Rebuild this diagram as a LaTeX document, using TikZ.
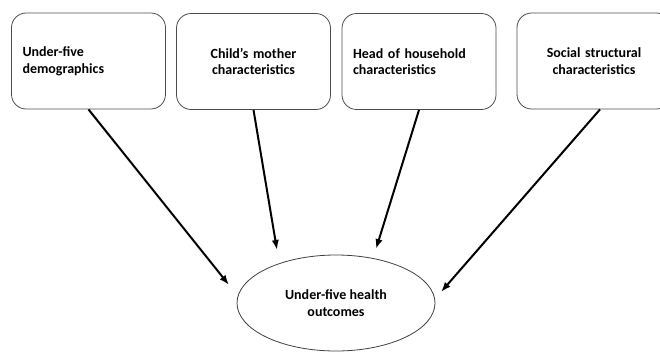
\documentclass[tikz,border=0pt]{standalone}
\usepackage{fontspec}
\setmainfont{Carlito}
\usetikzlibrary{shapes.geometric,arrows.meta}
\begin{document}
\begin{tikzpicture}[
		x=0.75pt, y=-0.75pt,
		factor/.style={rectangle, rounded corners=11pt, draw=black!70, line width=0.6pt,
			text width=99pt, inner sep=8.25pt, minimum height=72pt,
			font=\fontsize{10.5}{12.5}\selectfont\bfseries},
		outcome/.style={ellipse, draw=black!75, line width=0.6pt, inner sep=0pt,
			minimum width=148.5pt, minimum height=72pt, align=center,
			font=\fontsize{10.5}{12.5}\selectfont\bfseries},
		link/.style={-{Latex[length=7.5pt,width=5.5pt]}, line width=1.5pt, black}
		]
	\useasboundingbox (0,0) rectangle (660,351);
	\clip (0,0) rectangle (660,351);
	% top row of factors
	\node [factor, align=left] (demo) at (88.5,61) {Under-five\\demographics};
	\node [factor, align=center] (mother) at (253.5,61.5) {Child's mother\\characteristics};
	\node [factor, align=left] (head) at (419,61.5) {Head of household\\characteristics};
	\node [factor, align=center] (social) at (594,61) {Social structural\\characteristics};
	% outcome
	\node [outcome] (health) at (336,303) {Under-five health\\outcomes};
	\coordinate (e1) at (229,285);
	\coordinate (e2) at (277,250);
	\coordinate (e3) at (376,249);
	\coordinate (e4) at (441,292);
	\draw [link] (demo.south) -- (e1);
	\draw [link] (mother.south) -- (e2);
	\draw [link] (head.south) -- (e3);
	\draw [link] ([xshift=4.5pt]social.south) -- (e4);
\end{tikzpicture}
\end{document}
